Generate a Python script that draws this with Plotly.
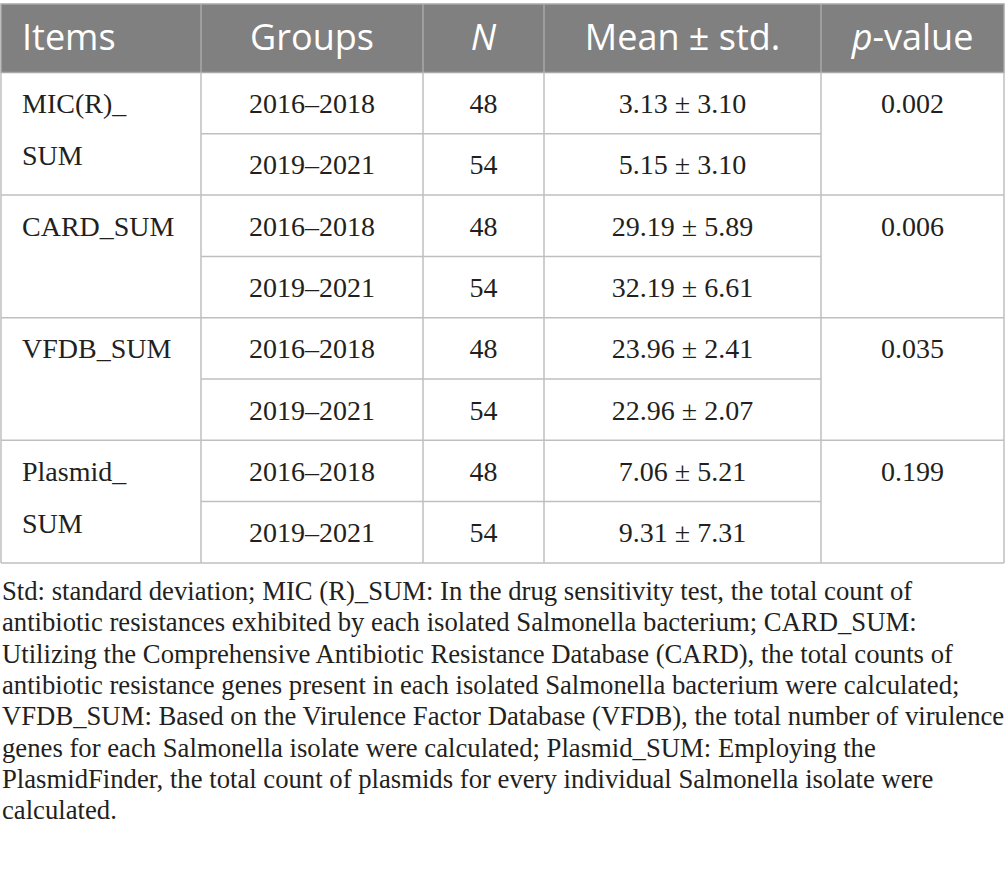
import plotly.graph_objects as go

# table content
headers = ["Items", "Groups", "<i>N</i>", "Mean ± std.", "<i>p</i>-value"]
item_lines = [["MIC(R)_", "SUM"], ["CARD_SUM"], ["VFDB_SUM"], ["Plasmid_", "SUM"]]
groups = ["2016–2018", "2019–2021"]
n_values = [[48, 54], [48, 54], [48, 54], [48, 54]]
means = [[3.13, 5.15], [29.19, 32.19], [23.96, 22.96], [7.06, 9.31]]
stds = [[3.10, 3.10], [5.89, 6.61], [2.41, 2.07], [5.21, 7.31]]
p_values = ["0.002", "0.006", "0.035", "0.199"]
footnote = [
    "Std: standard deviation; MIC (R)_SUM: In the drug sensitivity test, the total count of",
    "antibiotic resistances exhibited by each isolated Salmonella bacterium; CARD_SUM:",
    "Utilizing the Comprehensive Antibiotic Resistance Database (CARD), the total counts of",
    "antibiotic resistance genes present in each isolated Salmonella bacterium were calculated;",
    "VFDB_SUM: Based on the Virulence Factor Database (VFDB), the total number of virulence",
    "genes for each Salmonella isolate were calculated; Plasmid_SUM: Employing the",
    "PlasmidFinder, the total count of plasmids for every individual Salmonella isolate were",
    "calculated.",
]

W, H = 1005, 879
col_edges = [1, 201, 423, 544, 821, 1004]
head_top, head_bot = 4, 72.5
row_h = 61.3
line_gap = 52
pad_left = 21
nudge = 3  # text sits a little below cell centre
grid = "#bfbfbf"
head_fill = "#7f807f"
serif = "Liberation Serif"
sans = "Open Sans"
ink = "#231f20"

n_rows = len(item_lines) * len(groups)
row_edges = [head_bot + i * row_h for i in range(n_rows + 1)]
centers = [(col_edges[i] + col_edges[i + 1]) / 2 for i in range(len(col_edges) - 1)]

fig = go.Figure()

shapes = [dict(type="rect", x0=col_edges[0], x1=col_edges[-1], y0=head_top, y1=head_bot,
               fillcolor=head_fill, line=dict(color="#a8a8a8", width=1.5), layer="below")]
for x in col_edges[1:-1]:
    shapes.append(dict(type="line", x0=x, x1=x, y0=head_top, y1=head_bot,
                       line=dict(color="#a8a8a8", width=1.5)))
for x in col_edges:
    shapes.append(dict(type="line", x0=x, x1=x, y0=head_bot, y1=row_edges[-1],
                       line=dict(color=grid, width=1.5)))
for r in range(1, n_rows + 1):
    if r % len(groups) == 0:
        x0, x1 = col_edges[0], col_edges[-1]
    else:
        x0, x1 = col_edges[1], col_edges[-2]
    shapes.append(dict(type="line", x0=x0, x1=x1, y0=row_edges[r], y1=row_edges[r],
                       line=dict(color=grid, width=1.5)))

# header text
head_y = (head_top + head_bot) / 2 + nudge
fig.add_trace(go.Scatter(
    x=[col_edges[0] + pad_left], y=[head_y], mode="text", text=[headers[0]],
    textposition="middle right", textfont=dict(family=sans, size=36, color="white"),
    hoverinfo="skip"))
fig.add_trace(go.Scatter(
    x=centers[1:], y=[head_y] * 4, mode="text", text=headers[1:],
    textposition="middle center", textfont=dict(family=sans, size=36, color="white"),
    hoverinfo="skip"))

# body text
bx, by, bt = [], [], []
lx, ly, lt = [], [], []
for i, lines in enumerate(item_lines):
    top_c = (row_edges[2 * i] + row_edges[2 * i + 1]) / 2 + nudge
    for k, ln in enumerate(lines):
        lx.append(col_edges[0] + pad_left)
        ly.append(top_c + k * line_gap)
        lt.append(ln)
    bx.append(centers[4]); by.append(top_c); bt.append(p_values[i])
    for j, g in enumerate(groups):
        r = 2 * i + j
        cy = (row_edges[r] + row_edges[r + 1]) / 2 + nudge
        bx += [centers[1], centers[2], centers[3]]
        by += [cy, cy, cy]
        bt += [g, str(n_values[i][j]), f"{means[i][j]:.2f} ± {stds[i][j]:.2f}"]

fig.add_trace(go.Scatter(
    x=lx, y=ly, mode="text", text=lt, textposition="middle right",
    textfont=dict(family=serif, size=28, color=ink), hoverinfo="skip"))
fig.add_trace(go.Scatter(
    x=bx, y=by, mode="text", text=bt, textposition="middle center",
    textfont=dict(family=serif, size=28, color=ink), hoverinfo="skip"))

annotations = []
for i, ln in enumerate(footnote):
    annotations.append(dict(x=0, y=591 + i * 31.3, xref="x", yref="y", text=ln,
                            showarrow=False, xanchor="left", yanchor="middle",
                            font=dict(family=serif, size=26.7, color=ink)))

fig.update_layout(
    width=W, height=H, margin=dict(l=0, r=0, t=0, b=0),
    paper_bgcolor="white", plot_bgcolor="white", showlegend=False,
    shapes=shapes, annotations=annotations,
    xaxis=dict(range=[0, W], visible=False, fixedrange=True),
    yaxis=dict(range=[H, 0], visible=False, fixedrange=True),
)
fig.write_html("out.html", config={"displayModeBar": False},
               post_script="document.body.style.margin = '0';")
